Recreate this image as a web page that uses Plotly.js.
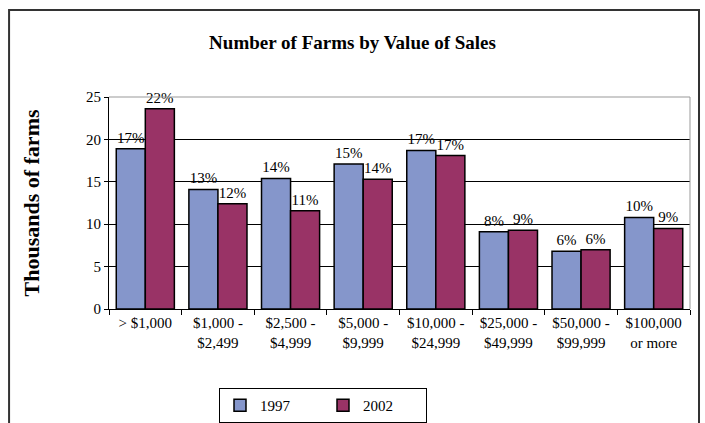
<!DOCTYPE html>
<html>
<head>
<meta charset="utf-8">
<script src="https://cdn.plot.ly/plotly-3.0.1.min.js"></script>
<style>
html,body{margin:0;padding:0;background:#fff;}
#chart{width:705px;height:423px;}
</style>
</head>
<body>
<div id="chart"></div>
<script>
const categories = ["> $1,000", "$1,000 -<br>$2,499", "$2,500 -<br>$4,999", "$5,000 -<br>$9,999", "$10,000 -<br>$24,999", "$25,000 -<br>$49,999", "$50,000 -<br>$99,999", "$100,000<br>or more"];
const values1997 = [18.9, 14.1, 15.4, 17.1, 18.7, 9.1, 6.8, 10.8];
const values2002 = [23.6, 12.4, 11.6, 15.3, 18.1, 9.3, 7.0, 9.5];
const labels1997 = ["17%", "13%", "14%", "15%", "17%", "8%", "6%", "10%"];
const labels2002 = ["22%", "12%", "11%", "14%", "17%", "9%", "6%", "9%"];
const seriesNames = ["1997", "2002"];
const yTicks = [0, 5, 10, 15, 20, 25];

const serif = "Liberation Serif";

const common = {
  type: "bar",
  textposition: "outside",
  cliponaxis: false,
  textfont: {family: serif, size: 15, color: "#000"},
  hoverinfo: "none"
};

const data = [
  Object.assign({}, common, {
    name: seriesNames[0], x: categories, y: values1997, text: labels1997,
    marker: {color: "#8596CB", line: {color: "#000", width: 1.5}}
  }),
  Object.assign({}, common, {
    name: seriesNames[1], x: categories, y: values2002, text: labels2002,
    marker: {color: "#993366", line: {color: "#000", width: 1.5}}
  })
];

const layout = {
  width: 705, height: 423,
  margin: {l: 109, r: 15, t: 97, b: 114, autoexpand: false},
  paper_bgcolor: "#fff", plot_bgcolor: "#fff",
  font: {family: serif, size: 14, color: "#000"},
  title: {text: "<b>Number of Farms by Value of Sales</b>", x: 0.5, xref: "container", xanchor: "center",
          y: 1 - 42/423, yref: "container", yanchor: "middle",
          font: {family: serif, size: 19, color: "#000"}},
  barmode: "group", bargap: 0.2, bargroupgap: 0,
  showlegend: true,
  legend: {orientation: "h", x: 219/705, xref: "container", xanchor: "left",
           y: 1 - 388/423, yref: "container", yanchor: "top",
           bordercolor: "#000", borderwidth: 1, bgcolor: "#fff",
           font: {family: serif, size: 15, color: "#000"},
           entrywidth: 58, itemwidth: 30, traceorder: "normal"},
  xaxis: {type: "category", showline: true, linecolor: "#000", linewidth: 1,
          ticks: "outside", tickson: "boundaries", ticklen: 5, tickcolor: "#000",
          tickfont: {family: serif, size: 15, color: "#000"}, showgrid: false, fixedrange: true},
  yaxis: {range: [0, 25], tickvals: yTicks, showline: true, linecolor: "#000", linewidth: 1,
          ticks: "outside", ticklen: 4, tickcolor: "#000",
          showgrid: true, gridcolor: "#000", gridwidth: 1, zeroline: false,
          tickfont: {family: serif, size: 15, color: "#000"},
          title: {text: "<b>Thousands of farms</b>", standoff: 40,
                  font: {family: serif, size: 22, color: "#000"}}, fixedrange: true},
  shapes: [
    {type: "line", xref: "paper", yref: "paper", x0: 0, x1: 1, y0: 1, y1: 1, line: {color: "#999", width: 1}},
    {type: "line", xref: "paper", yref: "paper", x0: 1, x1: 1, y0: 0, y1: 1, line: {color: "#999", width: 1}},
    {type: "rect", xref: "paper", yref: "paper", x0: -0.172, x1: 1.0155, y0: -0.6, y1: 1.41, line: {color: "#333", width: 2}}
  ]
};

Plotly.newPlot("chart", data, layout, {displayModeBar: false, staticPlot: true});
</script>
</body>
</html>
